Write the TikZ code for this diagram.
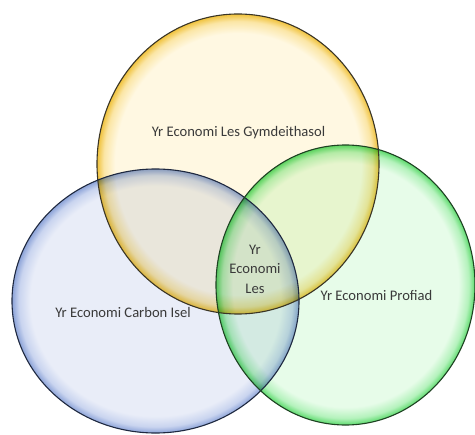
\documentclass[tikz,border=0pt]{standalone}
\usepackage{fontspec}
\setmainfont{Carlito}
\usetikzlibrary{calc}
\definecolor{yin}{HTML}{FFF8E2}
\definecolor{ymid}{HTML}{FBE6A6}
\definecolor{yrim}{HTML}{F0C23C}
\definecolor{yline}{HTML}{3A3526}
\definecolor{bin}{HTML}{E9EDF8}
\definecolor{bmid}{HTML}{C9D4EF}
\definecolor{brim}{HTML}{8CA3D8}
\definecolor{bline}{HTML}{1F2940}
\definecolor{gin}{HTML}{E7FCE9}
\definecolor{gmid}{HTML}{B4F2BC}
\definecolor{grim}{HTML}{5CDA6C}
\definecolor{gline}{HTML}{1E4222}
\definecolor{txt}{HTML}{3A3A3A}
\pgfdeclareradialshading{yshade}{\pgfpoint{0bp}{0bp}}{color(0bp)=(yin); color(21.8bp)=(yin); color(23.8bp)=(ymid); color(25bp)=(yrim); color(50bp)=(yrim)}
\pgfdeclareradialshading{bshade}{\pgfpoint{0bp}{0bp}}{color(0bp)=(bin); color(21.8bp)=(bin); color(23.8bp)=(bmid); color(25bp)=(brim); color(50bp)=(brim)}
\pgfdeclareradialshading{gshade}{\pgfpoint{0bp}{0bp}}{color(0bp)=(gin); color(21.8bp)=(gin); color(23.8bp)=(gmid); color(25bp)=(grim); color(50bp)=(grim)}
\tikzset{
  lbl/.style={text=txt, font=\fontsize{14.6bp}{19.5bp}\selectfont, align=center, inner sep=0pt},
  rimline/.style={line width=1.1bp}
}
\begin{document}
\begin{tikzpicture}[x=1bp,y=-1bp]
\useasboundingbox (0,0) rectangle (475,435);
\coordinate (ct) at (238,164);
\coordinate (cl) at (155.5,301);
\coordinate (cr) at (345.5,285);
\begin{scope}[blend group=multiply]
  \shade[shading=yshade] (ct) ellipse [x radius=141, y radius=150];
  \shade[shading=bshade] (cl) ellipse [x radius=143.5, y radius=132];
  \shade[shading=gshade] (cr) ellipse [x radius=129.5, y radius=140];
\end{scope}
\draw[rimline, draw=yline] (ct) ellipse [x radius=141, y radius=150];
\draw[rimline, draw=bline] (cl) ellipse [x radius=143.5, y radius=132];
\draw[rimline, draw=gline] (cr) ellipse [x radius=129.5, y radius=140];
\node[lbl, anchor=base] (tsoc) at (238.5,137) {Yr Economi Les Gymdeithasol};
\node[lbl, anchor=base] (tcar) at (123,317) {Yr Economi Carbon Isel};
\node[lbl, anchor=base] (tpro) at (376.5,300) {Yr Economi Profiad};
\node[lbl, anchor=base] (tles) at (255,254) {Yr};
\node[lbl, anchor=base] (tles2) at (255,273.5) {Economi};
\node[lbl, anchor=base] (tles3) at (255,293) {Les};
\end{tikzpicture}
\end{document}
